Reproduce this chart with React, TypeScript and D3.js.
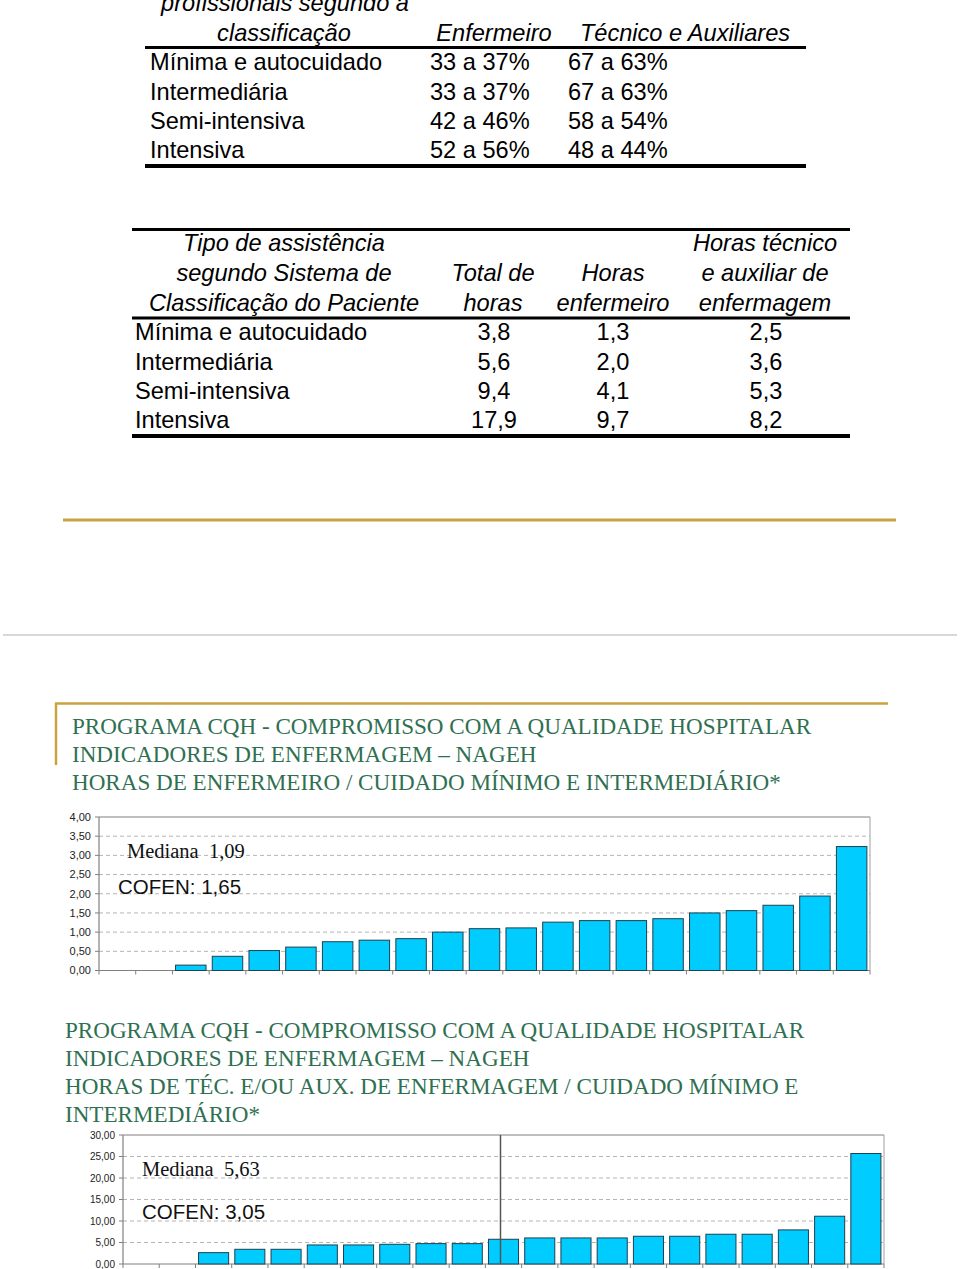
import React from "react";
import * as d3 from "d3";

// ---------- DATA ----------
const table1HeaderLeft = ["profissionais segundo a", "classificação"];
const table1HeaderCols = ["Enfermeiro", "Técnico e Auxiliares"];
const table1Rows = ["Mínima e autocuidado", "Intermediária", "Semi-intensiva", "Intensiva"];
const table1Enf = ["33 a 37%", "33 a 37%", "42 a 46%", "52 a 56%"];
const table1Tec = ["67 a 63%", "67 a 63%", "58 a 54%", "48 a 44%"];

const table2HeaderLeft = ["Tipo de assistência", "segundo Sistema de", "Classificação do Paciente"];
const table2HeaderTotal = ["", "Total de", "horas"];
const table2HeaderEnf = ["", "Horas", "enfermeiro"];
const table2HeaderTec = ["Horas técnico", "e auxiliar de", "enfermagem"];
const table2Rows = ["Mínima e autocuidado", "Intermediária", "Semi-intensiva", "Intensiva"];
const table2Total = ["3,8", "5,6", "9,4", "17,9"];
const table2Enf = ["1,3", "2,0", "4,1", "9,7"];
const table2Tec = ["2,5", "3,6", "5,3", "8,2"];

const chart1Title = [
  "PROGRAMA CQH - COMPROMISSO COM A QUALIDADE HOSPITALAR",
  "INDICADORES DE ENFERMAGEM – NAGEH",
  "HORAS DE ENFERMEIRO / CUIDADO MÍNIMO E INTERMEDIÁRIO*",
];
const chart1Values = [0, 0, 0.14, 0.37, 0.52, 0.61, 0.75, 0.79, 0.83, 1.0, 1.09, 1.11, 1.26, 1.3, 1.3, 1.35, 1.5, 1.56, 1.7, 1.94, 3.23];
const chart1Ticks = [0, 0.5, 1, 1.5, 2, 2.5, 3, 3.5, 4];
const chart1Mediana = "Mediana\u00a0\u00a01,09";
const chart1Cofen = "COFEN: 1,65";

const chart2Title = [
  "PROGRAMA CQH - COMPROMISSO COM A QUALIDADE HOSPITALAR",
  "INDICADORES DE ENFERMAGEM – NAGEH",
  "HORAS DE TÉC. E/OU AUX. DE ENFERMAGEM / CUIDADO MÍNIMO E",
  "INTERMEDIÁRIO*",
];
const chart2Values = [0, 0, 2.64, 3.42, 3.42, 4.43, 4.43, 4.58, 4.74, 4.74, 5.75, 6.06, 6.06, 6.06, 6.45, 6.45, 6.92, 6.92, 7.93, 11.11, 25.7];
const chart2Ticks = [0, 5, 10, 15, 20, 25, 30];
const chart2Mediana = "Mediana\u00a0\u00a05,63";
const chart2Cofen = "COFEN: 3,05";
const chart2MedianIndex = 10;

// ---------- STYLE ----------
const SANS = "'Liberation Sans', Arial, sans-serif";
const SERIF = "'Liberation Serif', 'Times New Roman', serif";
const GOLD = "#c9a43e";
const GREEN = "#2f7052";
const BAR = "#00ccff";
const fmt = (v: number) => d3.format(".2f")(v).replace(".", ",");

type ChartProps = {
  values: number[];
  ticks: number[];
  left: number;
  right: number;
  top: number;
  bottom: number;
  labelSize: number;
  mediana: string;
  cofen: string;
  medX: number;
  medY: number;
  cofX: number;
  cofY: number;
  medianIndex?: number;
};

function BarChart(p: ChartProps) {
  const x = d3
    .scaleBand<number>()
    .domain(p.values.map((_, i) => i))
    .range([p.left, p.right])
    .paddingInner(0.17)
    .paddingOuter(0.085);
  const y = d3
    .scaleLinear()
    .domain([0, p.ticks[p.ticks.length - 1]])
    .range([p.bottom, p.top]);
  const step = x.step();
  const boundaries = d3.range(p.values.length + 1).map((i) => p.left + i * step);
  return (
    <g>
      {p.ticks.slice(1, -1).map((t) => (
        <line key={"g" + t} x1={p.left} x2={p.right} y1={y(t)} y2={y(t)} stroke="#b4b4b4" strokeWidth={1} strokeDasharray="4,3" />
      ))}
      {p.ticks.map((t) => (
        <g key={"t" + t}>
          <line x1={p.left - 4} x2={p.left} y1={y(t)} y2={y(t)} stroke="#808080" strokeWidth={1} />
          <text x={p.left - 8} y={y(t)} dy="0.35em" textAnchor="end" fontFamily={SANS} fontSize={p.labelSize} fill="#222">
            {fmt(t)}
          </text>
        </g>
      ))}
      {/* plot frame */}
      <line x1={p.left} x2={p.right} y1={p.top} y2={p.top} stroke="#808080" strokeWidth={1.2} />
      <line x1={p.right} x2={p.right} y1={p.top} y2={p.bottom} stroke="#a0a0a0" strokeWidth={1} />
      <line x1={p.left} x2={p.left} y1={p.top} y2={p.bottom} stroke="#808080" strokeWidth={1.2} />
      <line x1={p.left} x2={p.right} y1={p.bottom} y2={p.bottom} stroke="#808080" strokeWidth={1.2} />
      {boundaries.map((b, i) => (
        <line key={"b" + i} x1={b} x2={b} y1={p.bottom} y2={p.bottom + 4} stroke="#808080" strokeWidth={1} />
      ))}
      {p.values.map((v, i) =>
        v > 0 ? (
          <rect
            key={"r" + i}
            x={x(i)!}
            y={y(v)}
            width={x.bandwidth()}
            height={p.bottom - y(v)}
            fill={BAR}
            stroke="#1d4150"
            strokeWidth={1}
          />
        ) : null
      )}
      {p.medianIndex !== undefined ? (
        <line
          x1={x(p.medianIndex)! + x.bandwidth() * 0.4}
          x2={x(p.medianIndex)! + x.bandwidth() * 0.4}
          y1={p.top}
          y2={p.bottom}
          stroke="#555"
          strokeWidth={1.5}
        />
      ) : null}
      <text x={p.medX} y={p.medY} dy="0.35em" fontFamily={SERIF} fontSize={20.5} fill="#111">
        {p.mediana}
      </text>
      <text x={p.cofX} y={p.cofY} dy="0.35em" fontFamily={SANS} fontSize={20.5} fill="#111">
        {p.cofen}
      </text>
    </g>
  );
}

export default function App() {
  const fs = 23.6;
  // table 1 positions
  const t1RowY = [62, 92, 121, 150];
  // table 2 positions
  const t2HeadY = [243, 273, 303];
  const t2RowY = [332, 362, 391, 420];
  return (
    <div style={{ position: "absolute", left: 0, top: 0 }}>
      <svg width={960} height={1269} style={{ display: "block", background: "#fff" }}>
        {/* ---------- Table 1 ---------- */}
        <g fontFamily={SANS} fontSize={fs} fill="#000">
          <text x={285} y={3} dy="0.35em" textAnchor="middle" fontStyle="italic">{table1HeaderLeft[0]}</text>
          <text x={284} y={33} dy="0.35em" textAnchor="middle" fontStyle="italic">{table1HeaderLeft[1]}</text>
          <text x={494} y={33} dy="0.35em" textAnchor="middle" fontStyle="italic">{table1HeaderCols[0]}</text>
          <text x={685} y={33} dy="0.35em" textAnchor="middle" fontStyle="italic">{table1HeaderCols[1]}</text>
          <line x1={145} x2={806} y1={47.5} y2={47.5} stroke="#000" strokeWidth={3} />
          {table1Rows.map((r, i) => (
            <g key={"t1" + i}>
              <text x={150} y={t1RowY[i]} dy="0.35em">{r}</text>
              <text x={430} y={t1RowY[i]} dy="0.35em">{table1Enf[i]}</text>
              <text x={568} y={t1RowY[i]} dy="0.35em">{table1Tec[i]}</text>
            </g>
          ))}
          <line x1={145} x2={806} y1={166} y2={166} stroke="#000" strokeWidth={4} />
        </g>

        {/* ---------- Table 2 ---------- */}
        <g fontFamily={SANS} fontSize={fs} fill="#000">
          <line x1={132} x2={850} y1={229.5} y2={229.5} stroke="#000" strokeWidth={3} />
          {t2HeadY.map((yy, i) => (
            <g key={"h2" + i} fontStyle="italic">
              <text x={284} y={yy} dy="0.35em" textAnchor="middle">{table2HeaderLeft[i]}</text>
              <text x={493} y={yy} dy="0.35em" textAnchor="middle">{table2HeaderTotal[i]}</text>
              <text x={613} y={yy} dy="0.35em" textAnchor="middle">{table2HeaderEnf[i]}</text>
              <text x={765} y={yy} dy="0.35em" textAnchor="middle">{table2HeaderTec[i]}</text>
            </g>
          ))}
          <line x1={132} x2={850} y1={318} y2={318} stroke="#000" strokeWidth={3} />
          {table2Rows.map((r, i) => (
            <g key={"t2" + i}>
              <text x={135} y={t2RowY[i]} dy="0.35em">{r}</text>
              <text x={494} y={t2RowY[i]} dy="0.35em" textAnchor="middle">{table2Total[i]}</text>
              <text x={613} y={t2RowY[i]} dy="0.35em" textAnchor="middle">{table2Enf[i]}</text>
              <text x={766} y={t2RowY[i]} dy="0.35em" textAnchor="middle">{table2Tec[i]}</text>
            </g>
          ))}
          <line x1={132} x2={850} y1={436} y2={436} stroke="#000" strokeWidth={4} />
        </g>

        {/* separators */}
        <line x1={63} x2={896} y1={520} y2={520} stroke={GOLD} strokeWidth={3} />
        <line x1={3} x2={957} y1={635} y2={635} stroke="#d8d8d8" strokeWidth={2} />

        {/* ---------- Chart 1 ---------- */}
        <line x1={55} x2={888} y1={703.5} y2={703.5} stroke={GOLD} strokeWidth={2.5} />
        <line x1={56} x2={56} y1={703} y2={765} stroke={GOLD} strokeWidth={2.5} />
        {chart1Title.map((t, i) => (
          <text key={"c1t" + i} x={72} y={726 + i * 28} dy="0.35em" fontFamily={SERIF} fontSize={23.1} fill={GREEN}>
            {t}
          </text>
        ))}
        <BarChart
          values={chart1Values}
          ticks={chart1Ticks}
          left={99}
          right={870}
          top={817}
          bottom={970.5}
          labelSize={11}
          mediana={chart1Mediana}
          cofen={chart1Cofen}
          medX={127}
          medY={851}
          cofX={118}
          cofY={887}
        />

        {/* ---------- Chart 2 ---------- */}
        {chart2Title.map((t, i) => (
          <text key={"c2t" + i} x={65} y={1030 + i * 28} dy="0.35em" fontFamily={SERIF} fontSize={23.1} fill={GREEN}>
            {t}
          </text>
        ))}
        <BarChart
          values={chart2Values}
          ticks={chart2Ticks}
          left={123}
          right={884}
          top={1135}
          bottom={1264}
          labelSize={10}
          mediana={chart2Mediana}
          cofen={chart2Cofen}
          medX={142}
          medY={1169}
          cofX={142}
          cofY={1212}
          medianIndex={chart2MedianIndex}
        />
      </svg>
    </div>
  );
}
